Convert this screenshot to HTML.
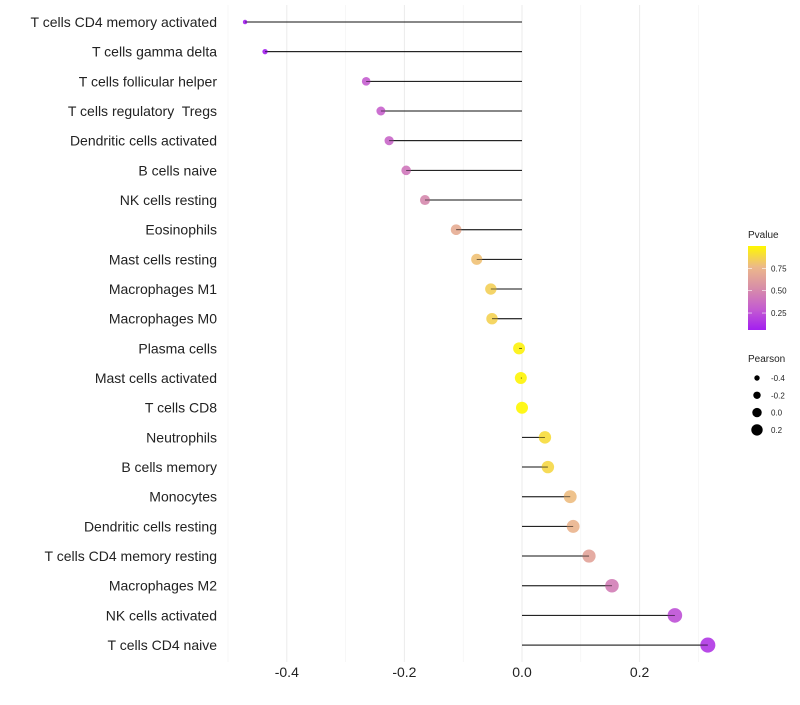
<!DOCTYPE html>
<html><head><meta charset="utf-8"><style>
body{margin:0;background:#fff;font-family:"Liberation Sans",sans-serif}
text{white-space:pre}
</style></head><body>
<svg id="chart" width="800" height="700" xmlns="http://www.w3.org/2000/svg">
<defs><linearGradient id="pg" x1="0" y1="1" x2="0" y2="0">
<stop offset="0" stop-color="#a31ff0"/><stop offset="0.25" stop-color="#c45cd0"/><stop offset="0.5" stop-color="#d88ea8"/><stop offset="0.75" stop-color="#ecb88a"/><stop offset="1" stop-color="#fff700"/>
</linearGradient></defs>
</svg>
<script>
const categories=["T cells CD4 memory activated","T cells gamma delta","T cells follicular helper","T cells regulatory  Tregs","Dendritic cells activated","B cells naive","NK cells resting","Eosinophils","Mast cells resting","Macrophages M1","Macrophages M0","Plasma cells","Mast cells activated","T cells CD8","Neutrophils","B cells memory","Monocytes","Dendritic cells resting","T cells CD4 memory resting","Macrophages M2","NK cells activated","T cells CD4 naive"];
const pearson=[-0.471,-0.437,-0.265,-0.240,-0.226,-0.197,-0.165,-0.112,-0.077,-0.053,-0.051,-0.005,-0.002,0.0,0.039,0.044,0.082,0.087,0.114,0.153,0.260,0.316];
const pvalue=[0.03,0.05,0.30,0.32,0.34,0.42,0.50,0.70,0.80,0.85,0.86,0.98,0.99,1.0,0.90,0.88,0.78,0.74,0.65,0.45,0.25,0.15];
const xTicks=[-0.4,-0.2,0.0,0.2];
const xTickLabels=["-0.4","-0.2","0.0","0.2"];
const xMinor=[-0.5,-0.3,-0.1,0.1,0.3];
const pTicks=[0.25,0.5,0.75];
const pTickLabels=["0.25","0.50","0.75"];
const sizeBreaks=[-0.4,-0.2,0.0,0.2];
const sizeLabels=["-0.4","-0.2","0.0","0.2"];

const svg=document.getElementById('chart');
const NS="http://www.w3.org/2000/svg";
const x=v=>522+v*588;
const y=i=>22+i*29.67;
const r=v=>Math.sqrt(Math.max(3,36+66*v));
const rl=v=>4.7+5*v;
const stops=[[0,[163,31,240]],[0.25,[196,92,208]],[0.5,[216,142,168]],[0.75,[236,184,138]],[1,[255,247,0]]];
function col(p){const t=Math.max(0,Math.min(1,(p-0.06)/0.94));for(let k=1;k<stops.length;k++){if(t<=stops[k][0]){const a=stops[k-1],b=stops[k];const f=(t-a[0])/(b[0]-a[0]);return 'rgb('+a[1].map((c,j)=>Math.round(c+(b[1][j]-c)*f)).join(',')+')';}}return 'rgb(255,247,0)';}
function mk(tag,attrs,txt){const e=document.createElementNS(NS,tag);for(const k in attrs)e.setAttribute(k,attrs[k]);if(txt!==undefined)e.textContent=txt;svg.appendChild(e);return e;}
const py=p=>330-(p-0.06)/0.94*84;

xMinor.forEach(v=>{const g=mk('line',{x1:x(v),x2:x(v),y1:5,y2:662,stroke:'#f2f2f2','stroke-width':0.6});

});
xTicks.forEach((v,i)=>{const g=mk('line',{x1:x(v),x2:x(v),y1:5,y2:662,stroke:'#ebebeb','stroke-width':1});


const t=mk('text',{x:x(v),y:677,'text-anchor':'middle','font-size':14,fill:'#222'},xTickLabels[i]);

});

categories.forEach((c,i)=>{
const t=mk('text',{x:217,y:y(i)+5,'text-anchor':'end','font-size':14,fill:'#222'},c);


const l=mk('line',{x1:x(0),x2:x(pearson[i]),y1:y(i),y2:y(i),stroke:'#111','stroke-width':1});


const d=mk('circle',{cx:x(pearson[i]),cy:y(i),r:r(pearson[i]),fill:col(pvalue[i]),'fill-opacity':0.9});


const l2=mk('line',{x1:x(0),x2:x(pearson[i]),y1:y(i),y2:y(i),stroke:'#111','stroke-width':0.8,'stroke-opacity':0.7});


});

const lt=mk('text',{x:748,y:238,'font-size':10,fill:'#222'},'Pvalue');


const bar=mk('rect',{x:748,y:246,width:18,height:84,fill:'url(#pg)'});


pTicks.forEach((p,i)=>{mk('line',{x1:748,x2:752,y1:py(p),y2:py(p),stroke:'#fff','stroke-width':0.6});mk('line',{x1:762,x2:766,y1:py(p),y2:py(p),stroke:'#fff','stroke-width':0.6});
const t=mk('text',{x:771,y:py(p)+3,'font-size':8,fill:'#222'},pTickLabels[i]);

});

const st=mk('text',{x:748,y:362,'font-size':10,fill:'#222'},'Pearson');


sizeBreaks.forEach((v,i)=>{const cy=378+i*17.3;
const c=mk('circle',{cx:757,cy:cy,r:rl(v),fill:'#000'});


const t=mk('text',{x:771,y:cy+3,'font-size':8,fill:'#222'},sizeLabels[i]);

});
</script>
</body></html>
